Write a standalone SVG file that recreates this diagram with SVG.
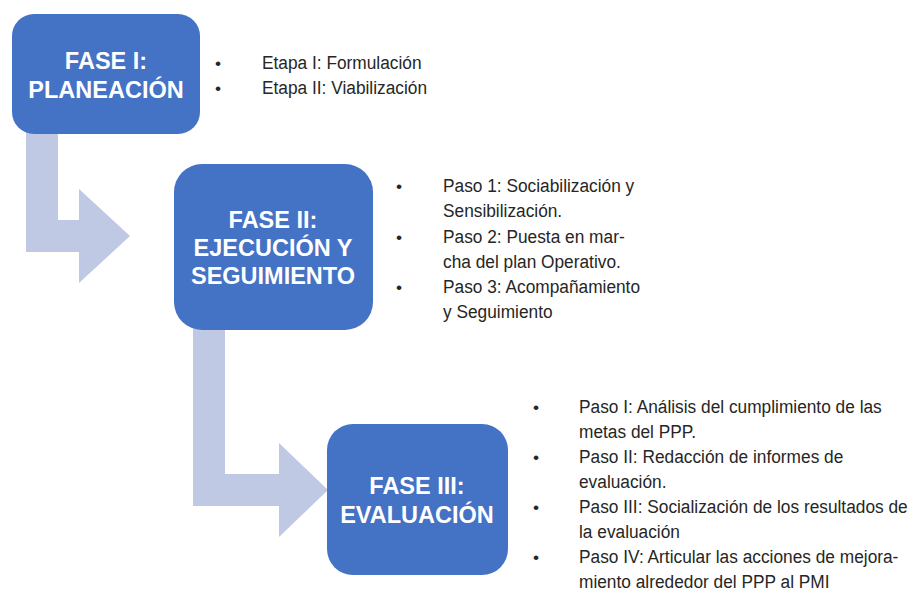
<svg xmlns="http://www.w3.org/2000/svg" width="913" height="593" viewBox="0 0 913 593">
  <style>
    .box { fill: #4472C4; }
    .arrow { fill: #BFC9E3; }
    .title { font-family: "Liberation Sans", Arial, sans-serif; font-weight: bold; font-size: 23.5px; fill: #FFFFFF; text-anchor: middle; }
    .item { font-family: "Liberation Sans", Arial, sans-serif; font-size: 18.6px; fill: #262626; }
    .bullet { font-family: "Liberation Sans", Arial, sans-serif; font-size: 17.3px; fill: #262626; }
  </style>
  <rect width="913" height="593" fill="#FFFFFF"/>
  <g id="connectors">
    <path class="arrow" d="M26,120 H58 V220 H79 V189 L130,236 L79,283 V252 H26 Z"/>
    <path class="arrow" d="M193,320 H225 V474 H279 V443 L328,490 L279,537 V506 H193 Z"/>
  </g>
  <g id="fase1">
    <rect class="box" x="12" y="14" width="188" height="120" rx="22" ry="22"/>
    <text class="title" x="106" y="69">FASE I:</text>
    <text class="title" x="106" y="98">PLANEACIÓN</text>
    <text class="bullet" x="215" y="69">•</text>
    <text class="bullet" x="215" y="94">•</text>
    <g transform="translate(262 0) scale(0.93 1)">
      <text class="item" x="0" y="69">Etapa I: Formulación</text>
      <text class="item" x="0" y="94">Etapa II: Viabilización</text>
    </g>
  </g>
  <g id="fase2">
    <rect class="box" x="174" y="164" width="199" height="166" rx="28" ry="28"/>
    <text class="title" x="273" y="228">FASE II:</text>
    <text class="title" x="273" y="256">EJECUCIÓN Y</text>
    <text class="title" x="273" y="284">SEGUIMIENTO</text>
    <text class="bullet" x="396" y="192">•</text>
    <text class="bullet" x="396" y="243">•</text>
    <text class="bullet" x="396" y="293">•</text>
    <g transform="translate(443 0) scale(0.93 1)">
      <text class="item" x="0" y="192">Paso 1: Sociabilización y</text>
      <text class="item" x="0" y="217">Sensibilización.</text>
      <text class="item" x="0" y="243">Paso 2: Puesta en mar-</text>
      <text class="item" x="0" y="268">cha del plan Operativo.</text>
      <text class="item" x="0" y="293">Paso 3: Acompañamiento</text>
      <text class="item" x="0" y="318">y Seguimiento</text>
    </g>
  </g>
  <g id="fase3">
    <rect class="box" x="327" y="424" width="181" height="151" rx="26" ry="26"/>
    <text class="title" x="417" y="494">FASE III:</text>
    <text class="title" x="417" y="523">EVALUACIÓN</text>
    <text class="bullet" x="533" y="413">•</text>
    <text class="bullet" x="533" y="463">•</text>
    <text class="bullet" x="533" y="513">•</text>
    <text class="bullet" x="533" y="563">•</text>
    <g transform="translate(579 0) scale(0.93 1)">
      <text class="item" x="0" y="413">Paso I: Análisis del cumplimiento de las</text>
      <text class="item" x="0" y="438">metas del PPP.</text>
      <text class="item" x="0" y="463">Paso II: Redacción de informes de</text>
      <text class="item" x="0" y="488">evaluación.</text>
      <text class="item" x="0" y="513">Paso III: Socialización de los resultados de</text>
      <text class="item" x="0" y="538">la evaluación</text>
      <text class="item" x="0" y="563">Paso IV: Articular las acciones de mejora-</text>
      <text class="item" x="0" y="588">miento alrededor del PPP al PMI</text>
    </g>
  </g>
</svg>
